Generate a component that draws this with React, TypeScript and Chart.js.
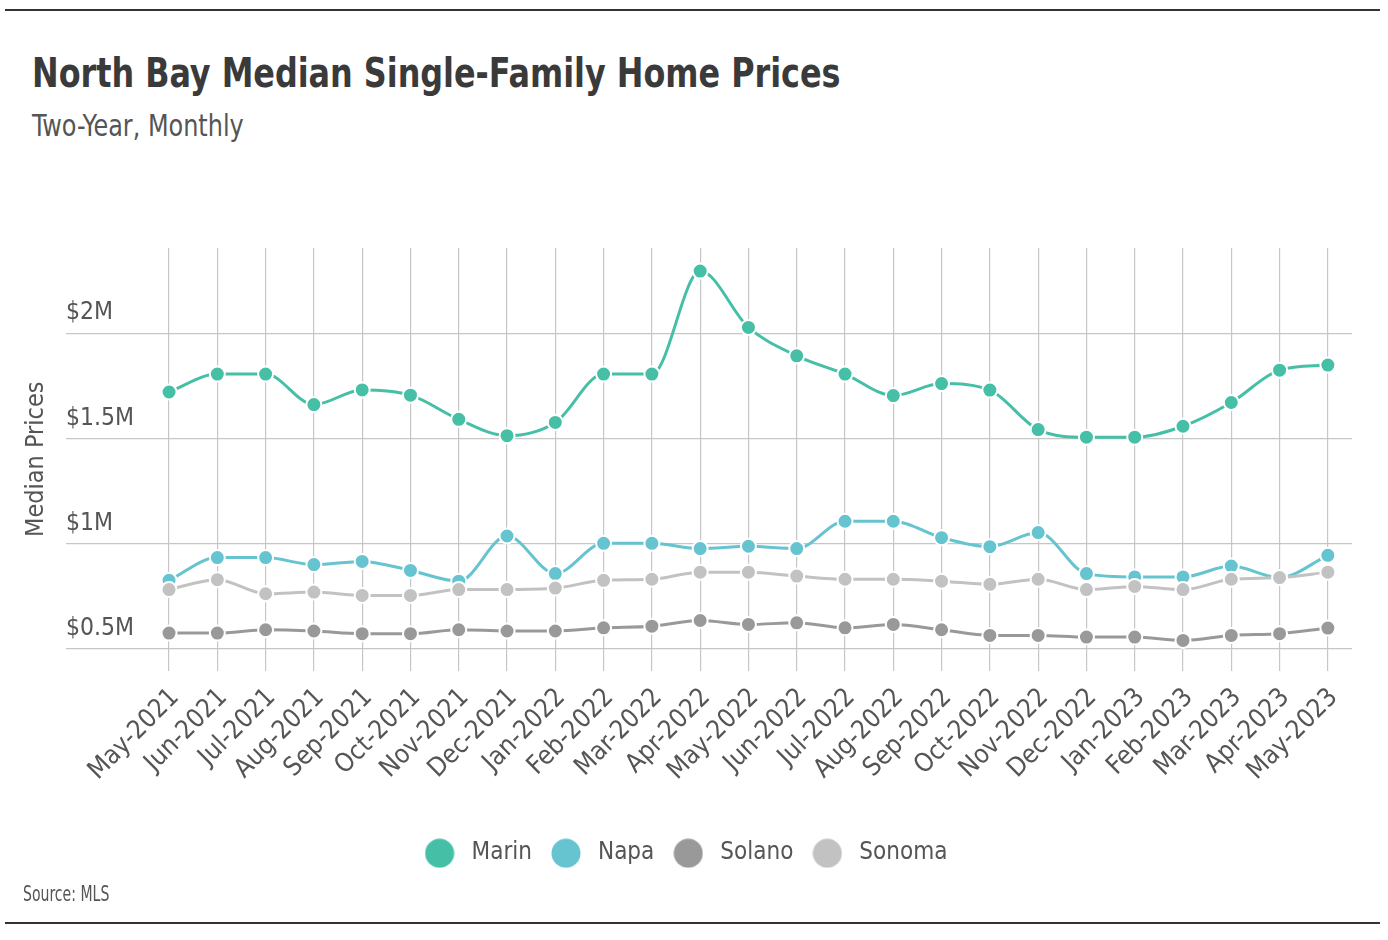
import React, { useEffect, useRef } from "react";
import { Chart, registerables } from "chart.js";

Chart.register(...registerables);

const FONT = "'DejaVu Sans Condensed', 'Liberation Sans', sans-serif";

const months = [
  "May-2021", "Jun-2021", "Jul-2021", "Aug-2021", "Sep-2021", "Oct-2021", "Nov-2021", "Dec-2021",
  "Jan-2022", "Feb-2022", "Mar-2022", "Apr-2022", "May-2022", "Jun-2022", "Jul-2022", "Aug-2022",
  "Sep-2022", "Oct-2022", "Nov-2022", "Dec-2022", "Jan-2023", "Feb-2023", "Mar-2023", "Apr-2023", "May-2023",
];

const marin = [
  1720000, 1805000, 1805000, 1660000, 1730000, 1705000, 1590000, 1512000,
  1575000, 1805000, 1805000, 2295000, 2027000, 1892000, 1805000, 1703000,
  1760000, 1729000, 1541000, 1505000, 1505000, 1557000, 1670000, 1824000, 1848000,
];
const napa = [
  824000, 932000, 932000, 899000, 914000, 871000, 820000, 1035000,
  856000, 1000000, 1000000, 975000, 986000, 975000, 1105000, 1105000,
  1027000, 984000, 1051000, 856000, 840000, 840000, 892000, 837000, 943000,
];
const solano = [
  573000, 573000, 589000, 583000, 570000, 570000, 589000, 583000,
  583000, 598000, 606000, 633000, 614000, 622000, 598000, 614000,
  589000, 562000, 562000, 554000, 554000, 538000, 562000, 570000, 597000,
];
const sonoma = [
  780000, 827000, 760000, 768000, 752000, 752000, 780000, 780000,
  787000, 824000, 829000, 863000, 863000, 844000, 829000, 829000,
  820000, 805000, 829000, 780000, 795000, 780000, 829000, 837000, 863000,
];

const seriesNames = ["Marin", "Napa", "Solano", "Sonoma"];
const seriesColors = ["#45bfa5", "#66c3d0", "#999999", "#c2c2c2"];
const yTicks = [500000, 1000000, 1500000, 2000000];

function makeDot(color: string): HTMLCanvasElement {
  const c = document.createElement("canvas");
  c.width = 30;
  c.height = 30;
  const g = c.getContext("2d");
  if (g) {
    g.fillStyle = color;
    g.beginPath();
    g.arc(15, 15, 14.5, 0, Math.PI * 2);
    g.fill();
  }
  return c;
}

export default function App() {
  const ref = useRef<HTMLCanvasElement | null>(null);

  useEffect(() => {
    if (!ref.current) return;
    const allSeries = [marin, napa, solano, sonoma];
    const dots = seriesColors.map((c) => makeDot(c));
    const datasets = allSeries.map((vals, k) => ({
      label: seriesNames[k],
      data: vals.map((v, i) => ({ x: i, y: v })),
      borderColor: seriesColors[k],
      backgroundColor: seriesColors[k],
      pointBackgroundColor: seriesColors[k],
      pointBorderColor: "#ffffff",
      pointBorderWidth: 2,
      pointRadius: 7.5,
      borderWidth: 3,
      cubicInterpolationMode: "monotone" as const,
      order: 4 - k,
    }));

    const defaultGen = (Chart.defaults.plugins.legend.labels as any).generateLabels;

    const chart = new Chart(ref.current, {
      type: "line",
      data: { datasets },
      options: {
        animation: false,
        responsive: false,
        layout: { padding: { left: 15, right: 36, top: 88, bottom: 14.75 } },
        scales: {
          x: {
            type: "linear",
            min: -2.134,
            max: 24.5,
            afterBuildTicks: (s: any) => {
              s.ticks = months.map((_, i) => ({ value: i }));
            },
            afterFit: (s: any) => {
              s.height = 156.75;
            },
            ticks: {
              autoSkip: false,
              minRotation: 45,
              maxRotation: 45,
              padding: 12,
              labelOffset: 6,
              color: "#555555",
              font: { family: FONT, size: 26 },
              callback: (v: any) => months[v as number] ?? "",
            },
            grid: { color: "#c6c6c6", lineWidth: 1.2, drawTicks: false },
            border: { display: false },
          },
          y: {
            min: 395000,
            max: 2405000,
            afterBuildTicks: (s: any) => {
              s.ticks = yTicks.map((v) => ({ value: v }));
            },
            afterFit: (s: any) => {
              s.width = 51;
            },
            ticks: {
              mirror: true,
              padding: 0,
              labelOffset: -20,
              color: "#555555",
              font: { family: FONT, size: 24.5 },
              callback: (v: any) => `$${(v as number) / 1000000}M`,
            },
            grid: { color: "#c6c6c6", lineWidth: 1.2, drawTicks: false },
            border: { display: false },
            title: {
              display: true,
              text: "Median Prices",
              color: "#555555",
              font: { family: FONT, size: 25 },
              padding: { top: 6, bottom: 4 },
            },
          },
        },
        plugins: {
          legend: {
            position: "bottom",
            labels: {
              usePointStyle: true,
              pointStyleWidth: 40,
              boxHeight: 21,
              padding: 14,
              color: "#555555",
              font: { family: FONT, size: 24 },
              generateLabels: (ch: any) =>
                defaultGen(ch).map((it: any) => ({ ...it, pointStyle: dots[it.datasetIndex] })),
              sort: (a: any, b: any) => a.datasetIndex - b.datasetIndex,
            },
          },
          tooltip: { enabled: false },
        },
      },
    });
    return () => chart.destroy();
  }, []);

  const textBase: React.CSSProperties = {
    position: "absolute",
    lineHeight: 1,
    whiteSpace: "nowrap",
    transformOrigin: "0 0",
  };

  return (
    <div
      style={{
        position: "fixed",
        left: 0,
        top: 0,
        width: 1388,
        height: 940,
        background: "#ffffff",
        fontFamily: FONT,
        overflow: "hidden",
      }}
    >
      <div style={{ position: "absolute", left: 5, top: 9, width: 1375, height: 2, background: "#333333" }} />
      <div
        style={{
          ...textBase,
          left: 32,
          top: 53,
          fontSize: 41,
          fontWeight: 700,
          color: "#3a3a3a",
          transform: "scaleX(0.863)",
        }}
      >
        North Bay Median Single-Family Home Prices
      </div>
      <div
        style={{
          ...textBase,
          left: 32,
          top: 110,
          fontSize: 31,
          color: "#555555",
          transform: "scaleX(0.858)",
        }}
      >
        Two-Year, Monthly
      </div>
      <canvas
        ref={ref}
        width={1388}
        height={730}
        style={{ position: "absolute", left: 0, top: 160, width: 1388, height: 730 }}
      />
      <div
        style={{
          ...textBase,
          left: 23,
          top: 883,
          fontSize: 22,
          color: "#555555",
          transform: "scaleX(0.71)",
        }}
      >
        Source: MLS
      </div>
      <div style={{ position: "absolute", left: 5, top: 922, width: 1375, height: 2, background: "#333333" }} />
    </div>
  );
}
